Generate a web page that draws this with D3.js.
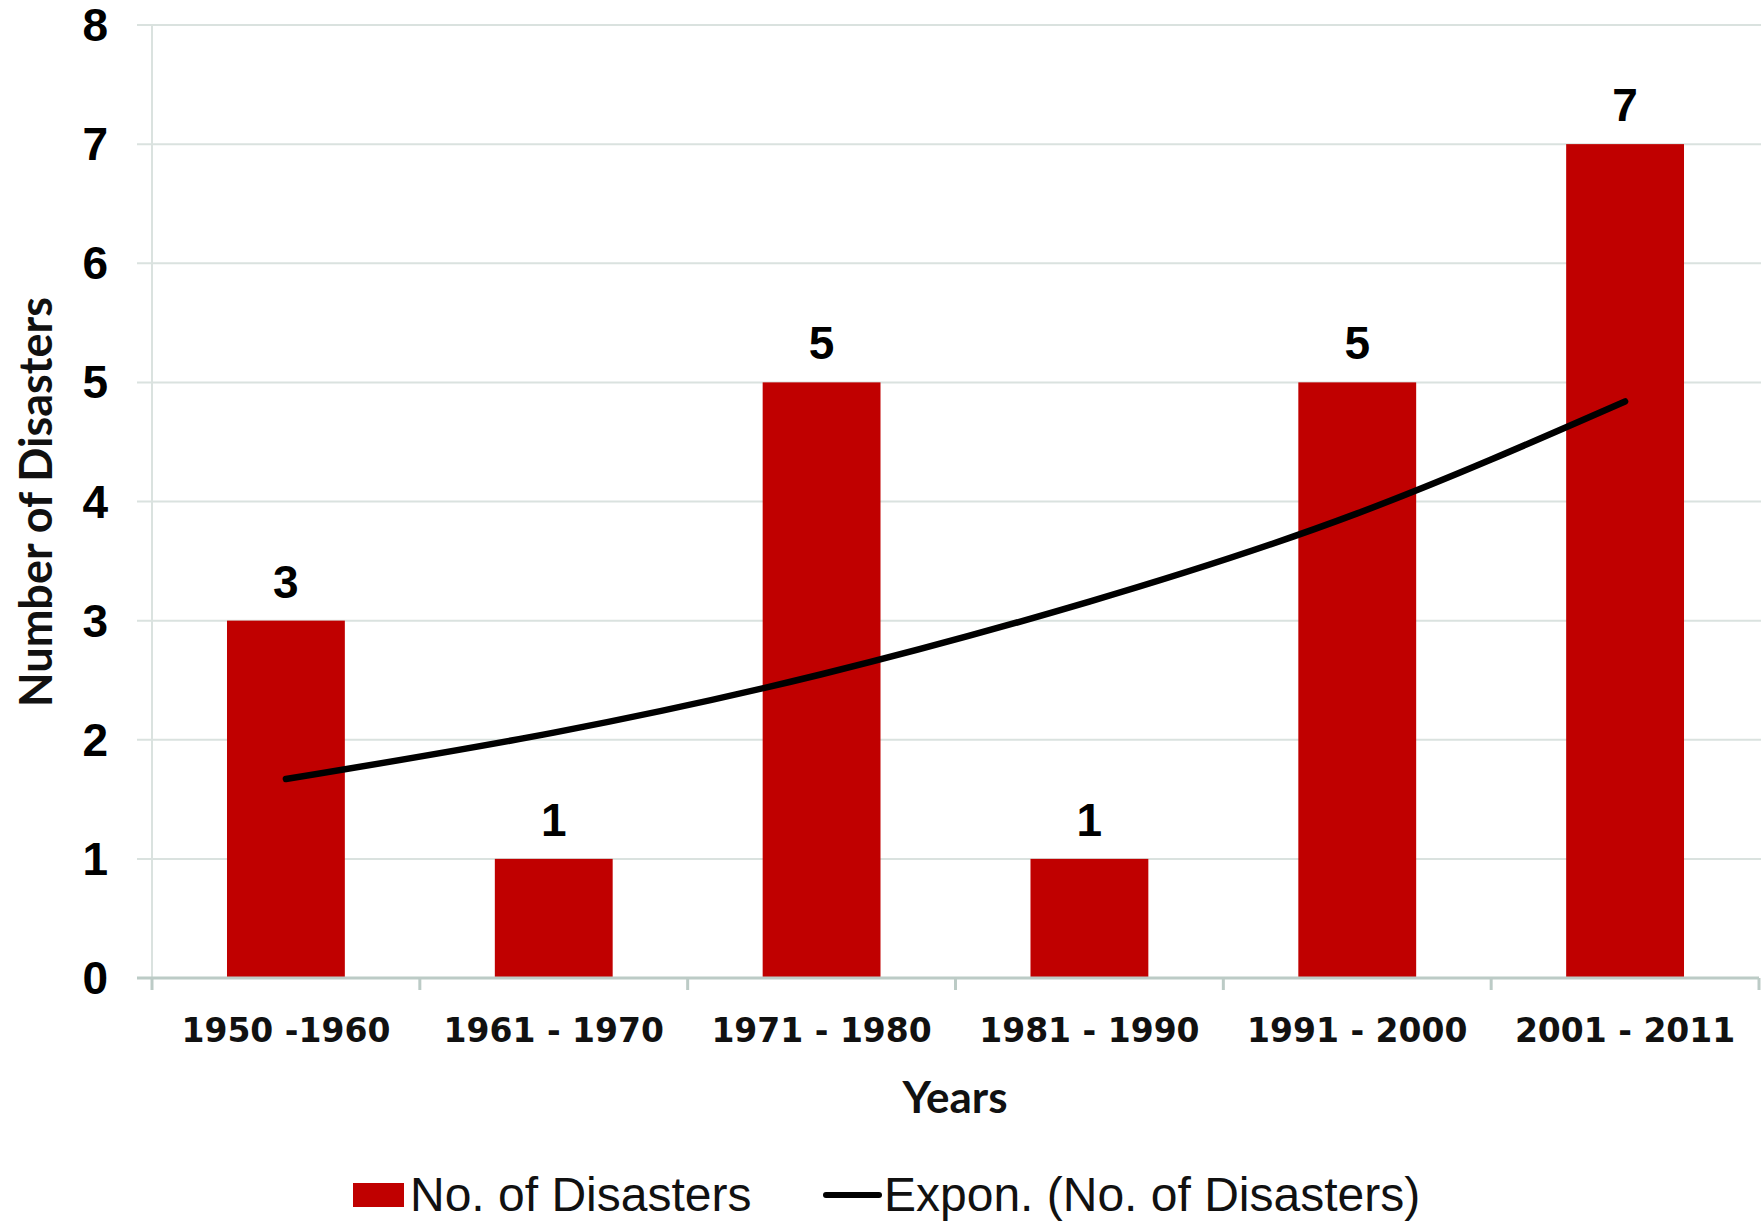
<!DOCTYPE html>
<html>
<head>
<meta charset="utf-8">
<script src="https://cdn.jsdelivr.net/npm/d3@7"></script>
<style>
  html, body { margin: 0; padding: 0; background: #fff; }
  svg { display: block; }
</style>
</head>
<body>
<svg id="chart" width="1762" height="1221"></svg>
<script>
// ---- data ----
const categories = ["1950 -1960", "1961 - 1970", "1971 - 1980", "1981 - 1990", "1991 - 2000", "2001 - 2011"];
const disasters = [3, 1, 5, 1, 5, 7];
const trendValues = [1.67, 2.06, 2.55, 3.16, 3.90, 4.84]; // Expon. trendline
const yTicks = [0, 1, 2, 3, 4, 5, 6, 7, 8];
const yTitle = "Number of Disasters";
const xTitle = "Years";
const legendLabels = ["No. of Disasters", "Expon. (No. of Disasters)"];

// ---- layout ----
const svg = d3.select("#chart");
const plotL = 152, plotR = 1759, plotT = 25, plotB = 978;
const barColor = "#c00000";
const gridColor = "#dae2df";
const axisColor = "#bccbc6";

const x = d3.scaleBand().domain(categories).range([plotL, plotR]).paddingInner(0.56).paddingOuter(0.28);
const y = d3.scaleLinear().domain([0, 8]).range([plotB, plotT]);

// gridlines
svg.append("g").selectAll("line").data(yTicks.filter(d => d > 0)).join("line")
  .attr("x1", plotL - 15).attr("x2", 1761)
  .attr("y1", d => y(d)).attr("y2", d => y(d))
  .attr("stroke", gridColor).attr("stroke-width", 2);

// y axis line
svg.append("line").attr("x1", plotL).attr("x2", plotL).attr("y1", y(8)).attr("y2", y(0))
  .attr("stroke", gridColor).attr("stroke-width", 2);

// y tick labels
svg.append("g").selectAll("text").data(yTicks).join("text")
  .attr("x", 108).attr("y", d => y(d))
  .attr("text-anchor", "end").attr("dominant-baseline", "central")
  .attr("font-family", "Liberation Sans, Arial, sans-serif").attr("font-weight", "bold")
  .attr("font-size", 46).attr("fill", "#000")
  .text(d => d);

// bars
svg.append("g").selectAll("rect").data(categories).join("rect")
  .attr("x", d => x(d)).attr("width", x.bandwidth())
  .attr("y", (d, i) => y(disasters[i])).attr("height", (d, i) => y(0) - y(disasters[i]))
  .attr("fill", barColor);

// x axis line
svg.append("line").attr("x1", plotL - 15).attr("x2", plotR).attr("y1", y(0)).attr("y2", y(0))
  .attr("stroke", axisColor).attr("stroke-width", 3);
// x axis ticks at category boundaries
const step = x.step();
const boundaries = d3.range(categories.length + 1).map(i => plotL + i * step);
svg.append("g").selectAll("line").data(boundaries).join("line")
  .attr("x1", d => d).attr("x2", d => d).attr("y1", y(0)).attr("y2", y(0) + 12)
  .attr("stroke", axisColor).attr("stroke-width", 3);

// x tick labels
svg.append("g").selectAll("text").data(categories).join("text")
  .attr("x", d => x(d) + x.bandwidth() / 2).attr("y", 1042)
  .attr("text-anchor", "middle")
  .attr("font-family", "DejaVu Sans, Verdana, sans-serif").attr("font-weight", "bold")
  .attr("font-size", 33).attr("fill", "#111")
  .text(d => d);

// data labels
svg.append("g").selectAll("text").data(categories).join("text")
  .attr("x", d => x(d) + x.bandwidth() / 2).attr("y", (d, i) => y(disasters[i]) - 23)
  .attr("text-anchor", "middle")
  .attr("font-family", "Liberation Sans, Arial, sans-serif").attr("font-weight", "bold")
  .attr("font-size", 46).attr("fill", "#000")
  .text((d, i) => disasters[i]);

// trendline
const trendLine = d3.line()
  .x((d, i) => x(categories[i]) + x.bandwidth() / 2)
  .y(d => y(d))
  .curve(d3.curveNatural);
svg.append("path").datum(trendValues).attr("d", trendLine)
  .attr("fill", "none").attr("stroke", "#000").attr("stroke-width", 6.5).attr("stroke-linecap", "round");

// axis titles
svg.append("text").attr("x", 955).attr("y", 1113).attr("text-anchor", "middle")
  .attr("font-family", "Lato, Carlito, sans-serif").attr("font-weight", "bold")
  .attr("font-size", 44).attr("fill", "#111").text(xTitle);

svg.append("text").attr("transform", "translate(52,502) rotate(-90)").attr("text-anchor", "middle")
  .attr("font-family", "Lato, Carlito, sans-serif").attr("font-weight", "bold")
  .attr("font-size", 45).attr("fill", "#111").text(yTitle);

// legend
const leg = svg.append("g");
leg.append("rect").attr("x", 353).attr("y", 1183).attr("width", 51).attr("height", 24).attr("fill", barColor);
leg.append("text").attr("x", 410).attr("y", 1211)
  .attr("font-family", "Liberation Sans, Arial, sans-serif").attr("font-size", 48).attr("fill", "#111")
  .text(legendLabels[0]);
leg.append("line").attr("x1", 826).attr("x2", 879).attr("y1", 1195).attr("y2", 1195)
  .attr("stroke", "#000").attr("stroke-width", 6).attr("stroke-linecap", "round");
leg.append("text").attr("x", 884).attr("y", 1211)
  .attr("font-family", "Liberation Sans, Arial, sans-serif").attr("font-size", 48).attr("fill", "#111")
  .text(legendLabels[1]);
</script>
</body>
</html>
